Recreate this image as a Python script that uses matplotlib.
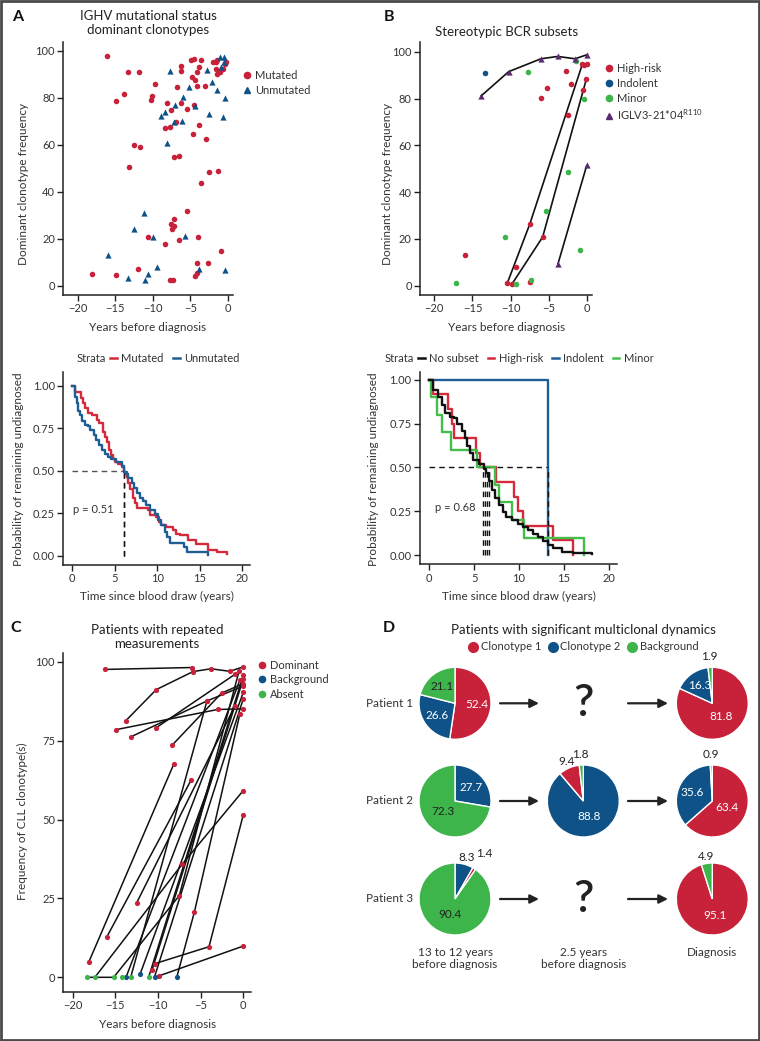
import matplotlib
matplotlib.use("Agg")
import matplotlib.pyplot as plt
import numpy as np
from matplotlib.lines import Line2D
from matplotlib.patches import Rectangle

plt.rcParams['font.family'] = ['Lato', 'DejaVu Sans']
plt.rcParams['font.size'] = 8
plt.rcParams['mathtext.fontset'] = 'custom'
plt.rcParams['mathtext.rm'] = 'Lato'

W, H = 760, 1041
RED = '#C8213A'; BLUE = '#0F5287'; GREEN = '#3DB54B'; PURPLE = '#5B2A70'
KM_RED = '#D42A3C'; KM_BLUE = '#1D5E96'; KM_GREEN = '#44BE4A'; KM_BLACK = '#111111'
TXT = '#333333'; SPINE = '#222222'

# ---------------- Panel A: IGHV status of dominant clonotypes ----------------
a_mut_years = [-16.18, -13.29, -11.87, -9.73, -13.82, -14.93, -10.09, -10.31, -12.53, -11.73,
               -13.2, -8.13, -7.6, -6.8, -6.2, -6.2, -6.18, -4.89, -4.49, -3.51,
               -3.87, -4.04, -4.71, -4.31, -4.13, -3.02, -5.38, -4.49, -6.84, -7.69,
               -8.4, -3.78, -4.67, -2.93, -7.2, -6.49, -2.44, -1.29, -3.51, -5.42,
               -7.16, -7.51, -7.2, -7.38, -10.67, -6.53, -4.0, -8.4, -0.84, -12.04,
               -4.09, -2.58, -18.13, -14.89, -4.04, -4.4, -7.69, -7.29, -2.0, -1.56,
               -1.42, -0.98, -1.38, -1.56, -0.18, -0.4, -0.67]
a_mut_freq = [97.6, 90.8, 91.1, 85.8, 81.6, 78.6, 80.9, 79.0, 59.7, 58.9,
              50.6, 77.6, 74.9, 84.7, 93.6, 91.2, 77.6, 95.9, 96.5, 95.9,
              92.9, 90.8, 88.9, 87.5, 85.0, 85.0, 75.0, 76.7, 69.6, 67.5,
              67.0, 68.4, 64.4, 62.6, 54.8, 55.2, 48.4, 48.7, 43.5, 31.6,
              28.4, 26.1, 25.4, 24.0, 20.6, 19.4, 20.7, 17.9, 14.9, 7.2,
              9.8, 9.5, 4.8, 4.5, 5.5, 4.1, 2.3, 2.3, 95.0, 95.0,
              96.2, 90.8, 90.2, 92.1, 95.3, 94.5, 92.2]
a_unm_years = [-7.73, -2.76, -0.98, -0.53, -0.53, -0.89, -2.04, -1.42, -5.16, -0.36,
               -6.0, -6.98, -4.31, -8.36, -8.89, -2.44, -0.62, -7.2, -6.09, -8.09,
               -11.2, -12.53, -9.96, -5.73, -16.0, -9.38, -3.87, -0.36, -10.71, -13.29, -11.1]
a_unm_freq = [91.3, 91.9, 97.2, 97.3, 95.0, 93.2, 86.5, 83.3, 84.5, 80.0,
              80.1, 76.9, 76.6, 73.8, 72.3, 72.9, 71.9, 69.8, 70.2, 60.6,
              31.1, 24.0, 20.7, 21.0, 13.2, 8.1, 7.2, 6.5, 4.8, 3.4, 2.6]

# ---------------- Panel B: stereotypic subsets ----------------
b_high_years = [-15.98, -10.44, -9.83, -9.34, -7.51, -7.51, -5.81, -5.98, -5.2, -2.79,
                -2.1, -2.49, -0.61, -0.39, -0.04, -0.48, -0.09]
b_high_freq = [13.1, 1.1, 0.7, 8.1, 26.2, 1.4, 20.8, 80.1, 84.5, 91.9,
               86.3, 72.8, 94.7, 94.2, 94.7, 83.5, 88.3]
b_indolent_years = [-13.3]
b_indolent_freq = [90.9]
b_minor_years = [-17.2, -10.7, -7.77, -5.41, -9.26, -7.29, -2.49, -1.44, -0.44, -0.87]
b_minor_freq = [1.1, 20.8, 91.2, 31.8, 0.85, 2.6, 48.4, 96.2, 79.8, 15.1]
b_iglv_years = [-13.84, -10.26, -6.03, -3.84, -1.57, -0.04, -3.8, -0.04]
b_iglv_freq = [81.2, 91.5, 97.0, 98.0, 97.0, 98.7, 9.4, 51.4]
b_line_patient = [1, 1, 1, 2, 2, 2, 3, 3, 4, 4, 4, 4, 4, 4]
b_line_years = [-10.44, -7.51, -0.61, -9.83, -5.81, -0.09, -3.8, -0.04,
                -13.84, -10.26, -6.03, -3.84, -1.57, -0.04]
b_line_freq = [1.1, 26.2, 94.7, 0.7, 20.8, 88.3, 9.4, 51.4,
               81.2, 91.5, 97.0, 98.0, 97.0, 98.7]

# ---------------- KM curves ----------------
km_a_mut_t = [0, 0.3, 1.0, 1.3, 1.5, 1.9, 2.3, 2.9, 3.2, 3.6, 3.85, 4.1, 4.35, 4.5, 4.75, 5.0,
              5.4, 5.8, 6.1, 6.4, 6.6, 6.8, 7.1, 7.4, 7.6, 8.9, 9.2, 9.9, 10.2, 10.5, 11.0,
              11.9, 12.2, 12.7, 13.6, 14.6, 16.0, 17.0, 18.2]
km_a_mut_s = [1.0, 0.96, 0.93, 0.90, 0.87, 0.84, 0.83, 0.80, 0.78, 0.73, 0.70, 0.67, 0.62, 0.59,
              0.57, 0.55, 0.54, 0.52, 0.49, 0.46, 0.43, 0.39, 0.34, 0.31, 0.28, 0.27, 0.24, 0.23,
              0.20, 0.18, 0.17, 0.15, 0.13, 0.12, 0.09, 0.07, 0.035, 0.024, 0.012]
km_a_unm_t = [0, 0.27, 0.5, 0.7, 0.9, 1.2, 1.5, 1.9, 2.1, 2.5, 2.8, 3.1, 3.45, 3.85, 4.2, 4.6,
              5.2, 5.8, 6.1, 6.3, 6.6, 7.0, 7.25, 7.6, 8.0, 8.3, 8.7, 9.1, 9.7, 10.1, 10.5,
              10.9, 11.2, 11.5, 13.1, 13.5, 16.0]
km_a_unm_s = [1.0, 0.935, 0.90, 0.85, 0.83, 0.79, 0.77, 0.76, 0.74, 0.71, 0.68, 0.65, 0.62, 0.60,
              0.58, 0.57, 0.55, 0.53, 0.49, 0.48, 0.455, 0.425, 0.40, 0.37, 0.34, 0.32, 0.30,
              0.27, 0.245, 0.21, 0.18, 0.14, 0.11, 0.076, 0.049, 0.024, 0.005]
a_strata = ['Mutated', 'Unmutated']
a_pvalue = 'p = 0.51'

km_b_none_t = [0, 0.45, 1.0, 1.4, 1.75, 2.3, 2.75, 3.1, 3.6, 4.0, 4.24, 4.5, 4.9, 5.5, 6.1, 6.3,
               6.6, 6.95, 7.3, 7.8, 8.25, 8.6, 9.2, 9.9, 10.5, 11.0, 11.6, 12.15, 12.7, 13.27,
               13.8, 14.75, 16.06, 18.1]
km_b_none_s = [1.0, 0.94, 0.90, 0.857, 0.81, 0.79, 0.78, 0.75, 0.71, 0.667, 0.62, 0.58, 0.54,
               0.52, 0.49, 0.467, 0.42, 0.37, 0.324, 0.286, 0.248, 0.22, 0.20, 0.18, 0.162,
               0.143, 0.12, 0.105, 0.08, 0.057, 0.038, 0.019, 0.01, 0.004]
km_b_high_t = [0, 0.45, 2.1, 2.5, 2.7, 5.2, 5.7, 7.43, 9.4, 9.9, 10.5, 13.8, 16.0]
km_b_high_s = [1.0, 0.917, 0.833, 0.75, 0.667, 0.583, 0.5, 0.417, 0.333, 0.25, 0.167, 0.083, 0.0]
km_b_ind_t = [0, 13.27]
km_b_ind_s = [1.0, 0.0]
km_b_minor_t = [0, 0.2, 0.9, 1.38, 2.4, 5.35, 7.32, 7.8, 9.26, 10.55, 17.2]
km_b_minor_s = [1.0, 0.9, 0.8, 0.7, 0.6, 0.5, 0.4, 0.3, 0.2, 0.1, 0.0]
b_strata = ['No subset', 'High-risk', 'Indolent', 'Minor']
b_km_medians = [6.02, 6.25, 6.47, 6.69, 13.27]
b_pvalue = 'p = 0.68'

# ---------------- Panel C: repeated measurements ----------------
c_patient = [1, 1,
             2, 2, 2, 2, 2, 2,
             3, 3, 3,
             4, 4, 4,
             5, 5,
             6, 6, 6,
             7, 7,
             8, 8,
             9, 9, 9,
             10, 10, 10, 10,
             11, 11, 11,
             12, 12,
             13, 13,
             14, 14,
             15, 15,
             16, 16,
             17, 17, 17,
             18, 18,
             19, 19,
             20, 20, 20]
c_years = [-16.17, -5.98,
           -13.75, -10.2, -5.9, -3.79, -1.6, 0.0,
           -14.92, -3.0, 0.0,
           -13.2, -4.26, 0.0,
           -10.27, -1.0,
           -8.3, -2.54, 0.0,
           -18.1, -8.13,
           -15.98, -6.1,
           -17.4, -7.15, 0.0,
           -18.3, -15.2, -7.5, -0.5,
           -14.2, -13.75, -0.4,
           -13.2, -4.26,
           -11.1, 0.0,
           -12.5, -1.0,
           -12.07, 0.0,
           -10.7, 0.0,
           -10.4, -4.02, 0.0,
           -10.4, 0.0,
           -9.84, 0.0,
           -7.8, -5.74, -0.4]
c_freq = [97.6, 98.2,
          81.4, 91.2, 96.9, 97.8, 97.0, 98.4,
          78.5, 84.9, 85.1,
          76.2, 87.6, 92.3,
          79.0, 96.0,
          73.7, 90.1, 93.1,
          4.9, 67.7,
          12.9, 62.6,
          0.0, 35.9, 59.2,
          0.0, 0.0, 25.9, 97.0,
          0.0, 0.0, 94.2,
          0.0, 87.6,
          0.0, 95.7,
          23.6, 85.9,
          1.2, 90.3,
          2.3, 94.6,
          4.3, 9.7, 51.5,
          0.2, 88.3,
          0.5, 9.9,
          0.0, 20.6, 83.5]
c_status = ['D', 'D',
            'D', 'D', 'D', 'D', 'D', 'D',
            'D', 'D', 'D',
            'D', 'D', 'D',
            'D', 'D',
            'D', 'D', 'D',
            'D', 'D',
            'D', 'D',
            'A', 'D', 'D',
            'A', 'A', 'D', 'D',
            'A', 'B', 'D',
            'A', 'D',
            'A', 'D',
            'D', 'D',
            'B', 'D',
            'D', 'D',
            'D', 'D', 'D',
            'B', 'D',
            'D', 'D',
            'B', 'D', 'D']
c_status_names = {'D': 'Dominant', 'B': 'Background', 'A': 'Absent'}

# ---------------- Panel D: pies ----------------
d_categories = ['Clonotype 1', 'Clonotype 2', 'Background']
d_rows = ['Patient 1', 'Patient 2', 'Patient 3']
d_cols = ['13 to 12 years\nbefore diagnosis', '2.5 years\nbefore diagnosis', 'Diagnosis']
p1_early_labels = ['Clonotype 1', 'Clonotype 2', 'Background']
p1_early_values = [52.4, 26.6, 21.1]
p1_dx_labels = ['Clonotype 1', 'Clonotype 2', 'Background']
p1_dx_values = [81.8, 16.3, 1.9]
p2_early_labels = ['Clonotype 2', 'Background']
p2_early_values = [27.7, 72.3]
p2_mid_labels = ['Clonotype 2', 'Clonotype 1', 'Background']
p2_mid_values = [88.8, 9.4, 1.8]
p2_dx_labels = ['Clonotype 1', 'Clonotype 2', 'Background']
p2_dx_values = [63.4, 35.6, 0.9]
p3_early_labels = ['Clonotype 2', 'Clonotype 1', 'Background']
p3_early_values = [8.3, 1.4, 90.4]
p3_dx_labels = ['Clonotype 1', 'Background']
p3_dx_values = [95.1, 4.9]

# ============================================================================
fig = plt.figure(figsize=(W / 100, H / 100), dpi=100)


def add_ax(l, t, r, b):
    return fig.add_axes([l / W, 1 - b / H, (r - l) / W, (b - t) / H])


def ftext(x, y, s, **kw):
    return fig.text(x / W, 1 - y / H, s, **kw)


def style(ax):
    for s in ['top', 'right']:
        ax.spines[s].set_visible(False)
    for s in ['left', 'bottom']:
        ax.spines[s].set_color(SPINE)
        ax.spines[s].set_linewidth(1.1)
    ax.tick_params(direction='out', length=4, width=1, colors=SPINE, labelcolor=TXT,
                   labelsize=8, pad=2)


LAB = dict(fontsize=8.5, color=TXT)

# ---- A scatter
axA = add_ax(63.3, 41.7, 233.3, 295)
style(axA)
axA.scatter(a_mut_years, a_mut_freq, s=16, color=RED, marker='o', linewidths=0, zorder=3)
axA.scatter(a_unm_years, a_unm_freq, s=20, color=BLUE, marker='^', linewidths=0, zorder=3)
axA.set_xlim(-21.96, 0.75); axA.set_ylim(-3.96, 103.8)
axA.set_xticks([-20, -15, -10, -5, 0]); axA.set_yticks([0, 20, 40, 60, 80, 100])
axA.set_xlabel('Years before diagnosis', **LAB)
axA.set_ylabel('Dominant clonotype frequency', **LAB)
axA.xaxis.set_label_coords(0.498, -0.105)
axA.yaxis.set_label_coords(-0.199, 0.44)
fig.legend([Line2D([], [], ls='', marker='o', color=RED, ms=4.5),
            Line2D([], [], ls='', marker='^', color=BLUE, ms=5)],
           ['Mutated', 'Unmutated'], loc='upper left', bbox_to_anchor=(243 / W, 1 - 70 / H),
           frameon=False, handlelength=0.8, handletextpad=0.3, labelspacing=0.35,
           borderpad=0, borderaxespad=0, fontsize=8, labelcolor=TXT)

# ---- B scatter
axB = add_ax(420, 41.7, 592.3, 295)
style(axB)
for pid in sorted(set(b_line_patient)):
    idx = [i for i, p in enumerate(b_line_patient) if p == pid]
    axB.plot([b_line_years[i] for i in idx], [b_line_freq[i] for i in idx],
             color=KM_BLACK, lw=1.2, zorder=2)
axB.scatter(b_high_years, b_high_freq, s=16, color=RED, linewidths=0, zorder=3)
axB.scatter(b_indolent_years, b_indolent_freq, s=16, color=BLUE, linewidths=0, zorder=3)
axB.scatter(b_minor_years, b_minor_freq, s=16, color=GREEN, linewidths=0, zorder=3)
axB.scatter(b_iglv_years, b_iglv_freq, s=20, marker='^', color=PURPLE, linewidths=0, zorder=3)
axB.set_xlim(-21.87, 0.69); axB.set_ylim(-3.97, 104.3)
axB.set_xticks([-20, -15, -10, -5, 0]); axB.set_yticks([0, 20, 40, 60, 80, 100])
axB.set_xlabel('Years before diagnosis', **LAB)
axB.set_ylabel('Dominant clonotype frequency', **LAB)
axB.xaxis.set_label_coords(0.503, -0.105)
axB.yaxis.set_label_coords(-0.154, 0.44)
fig.legend([Line2D([], [], ls='', marker='o', color=RED, ms=4.5),
            Line2D([], [], ls='', marker='o', color=BLUE, ms=4.5),
            Line2D([], [], ls='', marker='o', color=GREEN, ms=4.5),
            Line2D([], [], ls='', marker='^', color=PURPLE, ms=5)],
           ['High-risk', 'Indolent', 'Minor', r'IGLV3-21*04$^{\mathrm{R110}}$'],
           loc='upper left', bbox_to_anchor=(605 / W, 1 - 63 / H),
           frameon=False, handlelength=0.8, handletextpad=0.3, labelspacing=0.35,
           borderpad=0, borderaxespad=0, fontsize=8, labelcolor=TXT)


def first_below_half(t, s):
    for ti, si in zip(t, s):
        if si <= 0.5:
            return ti
    return t[-1]


# ---- A KM
axK1 = add_ax(63.3, 371.7, 250, 565)
style(axK1)
axK1.step(km_a_mut_t, km_a_mut_s, where='post', color=KM_RED, lw=1.7, zorder=3)
axK1.step(km_a_unm_t, km_a_unm_s, where='post', color=KM_BLUE, lw=1.7, zorder=3)
med_a = [first_below_half(km_a_mut_t, km_a_mut_s), first_below_half(km_a_unm_t, km_a_unm_s)]
axK1.plot([0, max(med_a)], [0.5, 0.5], color='#555555', ls=(0, (4, 3)), lw=1, zorder=2)
for m in med_a:
    axK1.plot([m, m], [0, 0.5], color='#111111', ls=(0, (4, 3)), lw=1, zorder=2)
axK1.text(0.12, 0.27, a_pvalue, fontsize=8, color=TXT, va='center', ha='left')
axK1.set_xlim(-1.06, 20.92); axK1.set_ylim(-0.055, 1.082)
axK1.set_xticks([0, 5, 10, 15, 20]); axK1.set_yticks([0, 0.25, 0.5, 0.75, 1.0])
axK1.yaxis.set_major_formatter(matplotlib.ticker.FormatStrFormatter('%.2f'))
axK1.set_xlabel('Time since blood draw (years)', **LAB)
axK1.set_ylabel('Probability of remaining undiagnosed', **LAB)
axK1.xaxis.set_label_coords(0.5, -0.132)
axK1.yaxis.set_label_coords(-0.213, 0.497)
ftext(77, 358, 'Strata', fontsize=8, color=TXT, va='center', ha='left')
fig.legend([Line2D([], [], color=KM_RED, lw=1.8), Line2D([], [], color=KM_BLUE, lw=1.8)],
           a_strata, loc='center left', bbox_to_anchor=(110 / W, 1 - 358 / H), ncol=2,
           frameon=False, handlelength=0.6, handletextpad=0.4, columnspacing=0.9,
           borderpad=0, borderaxespad=0, fontsize=8, labelcolor=TXT)

# ---- B KM
axK2 = add_ax(420, 371.7, 617.3, 564.3)
style(axK2)
axK2.step(km_b_ind_t, km_b_ind_s, where='post', color=KM_BLUE, lw=1.7, zorder=3)
axK2.step(km_b_none_t, km_b_none_s, where='post', color=KM_BLACK, lw=1.7, zorder=4)
axK2.step(km_b_high_t, km_b_high_s, where='post', color=KM_RED, lw=1.7, zorder=3)
axK2.step(km_b_minor_t, km_b_minor_s, where='post', color=KM_GREEN, lw=1.7, zorder=3)
axK2.plot([0, max(b_km_medians)], [0.5, 0.5], color='#111111', ls=(0, (4, 3)), lw=1, zorder=2)
for m in b_km_medians:
    axK2.plot([m, m], [0, 0.5], color='#111111', ls=(0, (4, 3)), lw=1, zorder=5)
axK2.text(0.63, 0.27, b_pvalue, fontsize=8, color=TXT, va='center', ha='left')
axK2.set_xlim(-1.04, 20.96); axK2.set_ylim(-0.053, 1.047)
axK2.set_xticks([0, 5, 10, 15, 20]); axK2.set_yticks([0, 0.25, 0.5, 0.75, 1.0])
axK2.yaxis.set_major_formatter(matplotlib.ticker.FormatStrFormatter('%.2f'))
axK2.set_xlabel('Time since blood draw (years)', **LAB)
axK2.set_ylabel('Probability of remaining undiagnosed', **LAB)
axK2.xaxis.set_label_coords(0.50, -0.136)
axK2.yaxis.set_label_coords(-0.21, 0.495)
ftext(385, 358, 'Strata', fontsize=8, color=TXT, va='center', ha='left')
fig.legend([Line2D([], [], color=KM_BLACK, lw=1.8), Line2D([], [], color=KM_RED, lw=1.8),
            Line2D([], [], color=KM_BLUE, lw=1.8), Line2D([], [], color=KM_GREEN, lw=1.8)],
           b_strata, loc='center left', bbox_to_anchor=(418 / W, 1 - 358 / H), ncol=4,
           frameon=False, handlelength=0.6, handletextpad=0.4, columnspacing=0.8,
           borderpad=0, borderaxespad=0, fontsize=8, labelcolor=TXT)

# ---- C
axC = add_ax(63.3, 653, 250.7, 991.7)
style(axC)
status_color = {'D': RED, 'B': BLUE, 'A': GREEN}
for pid in sorted(set(c_patient)):
    idx = [i for i, p in enumerate(c_patient) if p == pid]
    axC.plot([c_years[i] for i in idx], [c_freq[i] for i in idx], color=KM_BLACK, lw=1.1, zorder=2)
for st in ['D', 'B', 'A']:
    idx = [i for i, s in enumerate(c_status) if s == st]
    axC.scatter([c_years[i] for i in idx], [c_freq[i] for i in idx], s=14,
                color=status_color[st], linewidths=0, zorder=3)
axC.set_xlim(-21.1, 0.87); axC.set_ylim(-4.56, 102.8)
axC.set_xticks([-20, -15, -10, -5, 0]); axC.set_yticks([0, 25, 50, 75, 100])
axC.set_xlabel('Years before diagnosis', **LAB)
axC.set_ylabel('Frequency of CLL clonotype(s)', **LAB)
axC.xaxis.set_label_coords(0.503, -0.082)
axC.yaxis.set_label_coords(-0.187, 0.502)
fig.legend([Line2D([], [], ls='', marker='o', color=status_color[k], ms=4.5) for k in ['D', 'B', 'A']],
           [c_status_names[k] for k in ['D', 'B', 'A']], loc='upper left',
           bbox_to_anchor=(258 / W, 1 - 660 / H), frameon=False, handlelength=0.8,
           handletextpad=0.3, labelspacing=0.3, borderpad=0, borderaxespad=0,
           fontsize=8, labelcolor=TXT)

# ---- D
axD = add_ax(360, 615, 760, 1000)
cat_color = {'Clonotype 1': RED, 'Clonotype 2': BLUE, 'Background': GREEN}
col_x = [455, 583.3, 712.3]
row_y = [703.3, 801, 899]
R = 36
pies = [(0, 0, p1_early_labels, p1_early_values), (0, 2, p1_dx_labels, p1_dx_values),
        (1, 0, p2_early_labels, p2_early_values), (1, 1, p2_mid_labels, p2_mid_values),
        (1, 2, p2_dx_labels, p2_dx_values),
        (2, 0, p3_early_labels, p3_early_values), (2, 2, p3_dx_labels, p3_dx_values)]
for r, c, labs, vals in pies:
    cx, cy = col_x[c], H - row_y[r]
    axD.pie(vals, colors=[cat_color[l] for l in labs], startangle=90, counterclock=False,
            center=(cx, cy), radius=R, frame=True,
            wedgeprops=dict(edgecolor='white', linewidth=1))
    tot = float(sum(vals))
    cum = 0.0
    for l, v in zip(labs, vals):
        mid = (cum + v / 2) / tot * 2 * np.pi
        cum += v
        near_top = min(mid, 2 * np.pi - mid) < np.radians(20)
        if v < 2:
            rf = 1.3 if near_top else 1.5
        elif v < 10:
            rf = 1.2
        elif v > 60:
            rf = 0.45
        else:
            rf = 0.6
        tx, ty = cx + rf * R * np.sin(mid), cy + rf * R * np.cos(mid)
        if rf > 1:
            col = '#222222'
        else:
            col = '#222222' if l == 'Background' else 'white'
        axD.text(tx, ty, f'{v:.1f}', ha='center', va='center', fontsize=8.5, color=col)
for r in range(3):
    cy = H - row_y[r]
    axD.annotate('', xy=(539, cy), xytext=(500, cy),
                 arrowprops=dict(arrowstyle='-|>', lw=1.6, color='#222222', mutation_scale=13,
                                 shrinkA=0, shrinkB=0))
    axD.annotate('', xy=(668, cy), xytext=(628, cy),
                 arrowprops=dict(arrowstyle='-|>', lw=1.6, color='#222222', mutation_scale=13,
                                 shrinkA=0, shrinkB=0))
    axD.text(413, cy, d_rows[r], ha='right', va='center', fontsize=8.5, color=TXT)
have_mid = [any(rr == r and cc == 1 for rr, cc, _, _ in pies) for r in range(3)]
for r in range(3):
    if not have_mid[r]:
        axD.text(col_x[1], H - row_y[r], '?', ha='center', va='center', fontsize=32,
                 fontweight='semibold', color='#222222')
for c in range(3):
    axD.text(col_x[c], H - 947, d_cols[c], ha='center', va='top', fontsize=8.5, color=TXT,
             linespacing=1.15)
axD.set_xlim(360, 760); axD.set_ylim(H - 1000, H - 615)
axD.axis('off')
fig.legend([Line2D([], [], ls='', marker='o', color=cat_color[k], ms=7) for k in d_categories],
           d_categories, loc='center', bbox_to_anchor=(583 / W, 1 - 647 / H), ncol=3,
           frameon=False, handlelength=1.0, handletextpad=0.2, columnspacing=0.5,
           borderpad=0, borderaxespad=0, fontsize=8, labelcolor=TXT)

# ---- titles and panel letters
TT = dict(fontsize=9.5, color='#222222', ha='center', va='center')
ftext(148.3, 23, 'IGHV mutational status\ndominant clonotypes', linespacing=1.25, **TT)
ftext(506.7, 31.7, 'Stereotypic BCR subsets', **TT)
ftext(157, 637, 'Patients with repeated\nmeasurements', linespacing=1.25, **TT)
ftext(583, 630, 'Patients with significant multiclonal dynamics', **TT)
PL = dict(fontsize=11.5, fontweight='bold', color='#111111', ha='center', va='center')
ftext(17.5, 17, 'A', **PL)
ftext(389, 17, 'B', **PL)
ftext(16, 628, 'C', **PL)
ftext(389, 628, 'D', **PL)

fig.patches.append(Rectangle((0.0015, 0.0012), 0.997, 0.9976, transform=fig.transFigure,
                             fill=False, edgecolor='#4a4a4a', lw=2))

fig.savefig('out.png', dpi=100)
